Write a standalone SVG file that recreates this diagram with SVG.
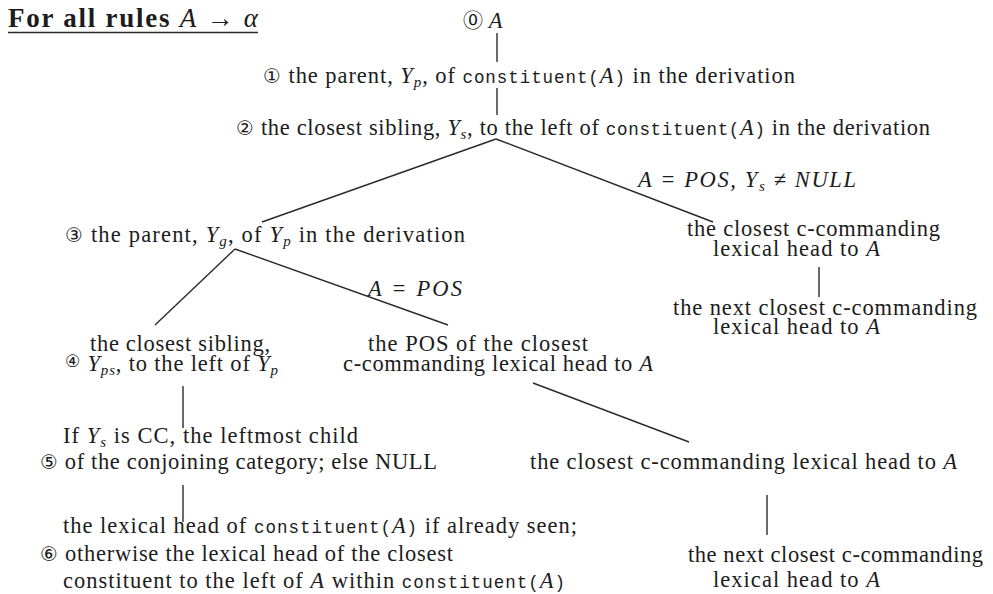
<svg xmlns="http://www.w3.org/2000/svg" width="993" height="594" viewBox="0 0 993 594">
<style>
text{font-family:"Liberation Serif",serif;font-size:22.5px;fill:#1c1c1c}
.i{font-style:italic}
.m{font-family:"Liberation Mono",monospace;font-size:17.5px}
.s{font-size:15px}
.c{font-family:"DejaVu Sans","Noto Sans CJK SC",sans-serif;font-size:20px}
.cs{font-family:"DejaVu Sans","Noto Sans CJK SC",sans-serif;font-size:17px}
.b{font-weight:bold;font-size:27px}
.ln{stroke:#2a2a2a;stroke-width:1.4;fill:none}
</style>
<rect width="993" height="594" fill="#fff"/>
<g id="title">
<text class="b" x="8" y="27" textLength="250">For all rules <tspan class="i" font-weight="normal">A</tspan><tspan font-weight="normal"> → </tspan><tspan class="i" font-weight="normal">α</tspan></text>
<line class="ln" x1="8" y1="32.5" x2="258" y2="32.5" stroke-width="1.8"/>
</g>
<g id="connectors">
<line class="ln" x1="497" y1="33" x2="497" y2="62"/>
<line class="ln" x1="497" y1="88" x2="497" y2="115"/>
<line class="ln" x1="496" y1="139" x2="262" y2="222"/>
<line class="ln" x1="496" y1="139" x2="713" y2="222"/>
<line class="ln" x1="235" y1="249" x2="155" y2="325"/>
<line class="ln" x1="235" y1="249" x2="448" y2="325"/>
<line class="ln" x1="819" y1="267" x2="819" y2="297"/>
<line class="ln" x1="183" y1="386" x2="183" y2="428"/>
<line class="ln" x1="533" y1="383" x2="689" y2="442"/>
<line class="ln" x1="183" y1="485" x2="183" y2="522"/>
<line class="ln" x1="767" y1="495" x2="767" y2="535"/>
<text class="i" x="638" y="187" textLength="218">A = POS, Y<tspan class="s" dy="4">s</tspan><tspan dy="-4"> ≠ NULL</tspan></text>
<text class="i" x="368" y="296" textLength="94">A = POS</text>
</g>
<g id="n0"><text x="463" y="28"><tspan class="c">⓪</tspan> <tspan class="i">A</tspan></text></g>
<g id="n1"><text x="263" y="83" textLength="532"><tspan class="c">①</tspan> the parent, <tspan class="i">Y</tspan><tspan class="i s" dy="4">p</tspan><tspan dy="-4">, of </tspan><tspan class="m">constituent(</tspan><tspan class="i">A</tspan><tspan class="m">)</tspan> in the derivation</text></g>
<g id="n2"><text x="236" y="135" textLength="694"><tspan class="c">②</tspan> the closest sibling, <tspan class="i">Y</tspan><tspan class="i s" dy="4">s</tspan><tspan dy="-4">, to the left of </tspan><tspan class="m">constituent(</tspan><tspan class="i">A</tspan><tspan class="m">)</tspan> in the derivation</text></g>
<g id="n3"><text x="65" y="242" textLength="400"><tspan class="c">③</tspan> the parent, <tspan class="i">Y</tspan><tspan class="i s" dy="4">g</tspan><tspan dy="-4">, of </tspan><tspan class="i">Y</tspan><tspan class="i s" dy="4">p</tspan><tspan dy="-4"> in the derivation</tspan></text></g>
<g id="n4">
<text x="90" y="351" textLength="180">the closest sibling,</text>
<text x="65" y="371" textLength="213"><tspan class="cs" dy="-4">④</tspan><tspan dy="4"> </tspan><tspan class="i">Y</tspan><tspan class="i s" dy="4">ps</tspan><tspan dy="-4">, to the left of </tspan><tspan class="i">Y</tspan><tspan class="i s" dy="4">p</tspan></text>
</g>
<g id="n5">
<text x="368" y="351" textLength="220">the POS of the closest</text>
<text x="343" y="371" textLength="310">c-commanding lexical head to <tspan class="i">A</tspan></text>
</g>
<g id="n6">
<text x="63" y="443" textLength="295">If <tspan class="i">Y</tspan><tspan class="i s" dy="4">s</tspan><tspan dy="-4"> is CC, the leftmost child</tspan></text>
<text x="40" y="469" textLength="397"><tspan class="c">⑤</tspan> of the conjoining category; else NULL</text>
</g>
<g id="n7">
<text x="687" y="236" textLength="253">the closest c-commanding</text>
<text x="713" y="256" textLength="167">lexical head to <tspan class="i">A</tspan></text>
</g>
<g id="n8">
<text x="673" y="315" textLength="304">the next closest c-commanding</text>
<text x="713" y="334" textLength="167">lexical head to <tspan class="i">A</tspan></text>
</g>
<g id="n9"><text x="530" y="469" textLength="427">the closest c-commanding lexical head to <tspan class="i">A</tspan></text></g>
<g id="n10">
<text x="63" y="533" textLength="514">the lexical head of <tspan class="m">constituent(</tspan><tspan class="i">A</tspan><tspan class="m">)</tspan> if already seen;</text>
<text x="40" y="561" textLength="413"><tspan class="c">⑥</tspan> otherwise the lexical head of the closest</text>
<text x="63" y="588" textLength="502">constituent to the left of <tspan class="i">A</tspan> within <tspan class="m">constituent(</tspan><tspan class="i">A</tspan><tspan class="m">)</tspan></text>
</g>
<g id="n11">
<text x="688" y="562" textLength="295">the next closest c-commanding</text>
<text x="713" y="587" textLength="167">lexical head to <tspan class="i">A</tspan></text>
</g>
</svg>
